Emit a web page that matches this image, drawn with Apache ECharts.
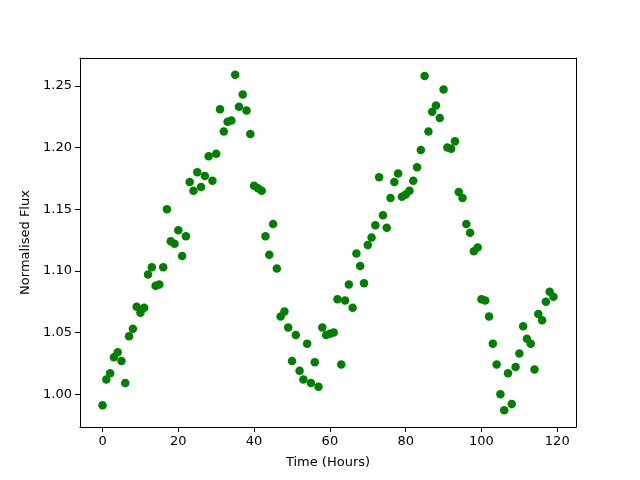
<!DOCTYPE html>
<html>
<head>
<meta charset="utf-8">
<script src="https://cdn.jsdelivr.net/npm/echarts@6/dist/echarts.min.js"></script>
<style>
  html, body { margin: 0; padding: 0; background: #fff; }
  #chart { width: 640px; height: 480px; }
</style>
</head>
<body>
<div id="chart"></div>
<script>
// time in hours, one reading per hour
var hours = Array.from({length: 120}, function(_, i) { return i; });

// normalised flux
var flux = [
  0.991, 1.012, 1.017, 1.030, 1.034, 1.027, 1.009, 1.047, 1.053, 1.071,
  1.066, 1.070, 1.097, 1.103, 1.088, 1.089, 1.103, 1.150, 1.124, 1.122,
  1.133, 1.112, 1.128, 1.172, 1.165, 1.180, 1.168, 1.177, 1.193, 1.173,
  1.195, 1.231, 1.213, 1.221, 1.222, 1.259, 1.233, 1.243, 1.230, 1.211,
  1.169, 1.167, 1.165, 1.128, 1.113, 1.138, 1.102, 1.063, 1.067, 1.054,
  1.027, 1.048, 1.019, 1.012, 1.041, 1.009, 1.026, 1.006, 1.054, 1.048,
  1.049, 1.050, 1.077, 1.024, 1.076, 1.089, 1.070, 1.114, 1.104, 1.090,
  1.121, 1.127, 1.137, 1.176, 1.145, 1.135, 1.159, 1.172, 1.179, 1.160,
  1.162, 1.165, 1.173, 1.184, 1.198, 1.258, 1.213, 1.229, 1.234, 1.224,
  1.247, 1.200, 1.199, 1.205, 1.164, 1.159, 1.138, 1.131, 1.116, 1.119,
  1.077, 1.076, 1.063, 1.041, 1.024, 1.000, 0.987, 1.017, 0.992, 1.022,
  1.033, 1.055, 1.045, 1.041, 1.020, 1.065, 1.060, 1.075, 1.083, 1.079
];

var xTicks = [0, 20, 40, 60, 80, 100, 120];
var yTicks = [1.00, 1.05, 1.10, 1.15, 1.20, 1.25];

var points = hours.map(function(h, i) { return [h, flux[i]]; });

var font = 'DejaVu Sans';
var xMin = -5.95, xMax = 124.95, yMin = 0.9734, yMax = 1.2726;
var spine = {show: true, onZero: false, lineStyle: {color: '#000', width: 1}};

var chart = echarts.init(document.getElementById('chart'), null, {renderer: 'canvas'});
chart.setOption({
  animation: false,
  backgroundColor: '#fff',
  grid: {left: 80, right: 64, top: 58, bottom: 53},
  xAxis: [{
    type: 'value', min: xMin, max: xMax, position: 'bottom',
    name: 'Time (Hours)', nameLocation: 'middle', nameGap: 29,
    nameTextStyle: {color: '#000', fontFamily: font, fontSize: 13},
    axisLine: spine,
    axisTick: {show: true, length: 5, lineStyle: {color: '#000'}, customValues: xTicks},
    axisLabel: {color: '#000', fontFamily: font, fontSize: 13, margin: 8, customValues: xTicks},
    splitLine: {show: false}
  }, {
    // top spine
    type: 'value', min: xMin, max: xMax, position: 'top',
    axisLine: spine, axisTick: {show: false}, axisLabel: {show: false}, splitLine: {show: false}
  }],
  yAxis: [{
    type: 'value', min: yMin, max: yMax, position: 'left',
    name: 'Normalised Flux', nameLocation: 'middle', nameGap: 46, nameRotate: 90,
    nameTextStyle: {color: '#000', fontFamily: font, fontSize: 13},
    axisLine: spine,
    axisTick: {show: true, length: 5, lineStyle: {color: '#000'}, customValues: yTicks},
    axisLabel: {color: '#000', fontFamily: font, fontSize: 13, margin: 8, customValues: yTicks,
      formatter: function(v) { return v.toFixed(2); }},
    splitLine: {show: false}
  }, {
    // right spine
    type: 'value', min: yMin, max: yMax, position: 'right',
    axisLine: spine, axisTick: {show: false}, axisLabel: {show: false}, splitLine: {show: false}
  }],
  series: [{
    type: 'scatter',
    xAxisIndex: 0, yAxisIndex: 0,
    data: points,
    symbol: 'circle',
    symbolSize: 8.5,
    itemStyle: {color: '#008000', opacity: 1}
  }]
});
</script>
</body>
</html>
